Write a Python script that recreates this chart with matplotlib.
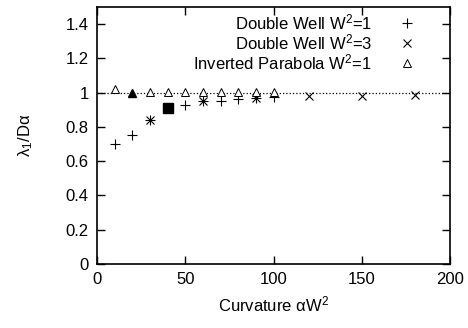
import matplotlib
matplotlib.use("Agg")
import matplotlib.pyplot as plt

plt.rcParams['font.family'] = ['Liberation Sans', 'DejaVu Sans']
plt.rcParams['mathtext.default'] = 'regular'

# data
dw1_x = [10, 20, 30, 40, 50, 60, 70, 80, 90, 100]
dw1_y = [0.70, 0.75, 0.84, 0.91, 0.93, 0.95, 0.95, 0.96, 0.97, 0.975]
dw3_x = [30, 60, 90, 120, 150, 180]
dw3_y = [0.84, 0.95, 0.97, 0.98, 0.982, 0.986]
ip_x = [10, 30, 40, 50, 60, 70, 80, 90, 100]
ip_y = [1.02, 1.005, 1.005, 1.005, 1.005, 1.005, 1.005, 1.005, 1.005]
tri_x = [20]
tri_y = [1.0]
sq_x = [40]
sq_y = [0.91]

fig = plt.figure(figsize=(4.68, 3.28), dpi=100)
ax = fig.add_axes([0.207, 0.195, 0.755, 0.784])

ax.axhline(1.0, color='black', ls=':', lw=0.9, zorder=1)
ax.plot(dw1_x, dw1_y, ls='none', marker='+', ms=6.5, mew=0.8, color='black',
        label=r'Double Well $W^2$=1')
ax.plot(dw3_x, dw3_y, ls='none', marker='x', ms=5.5, mew=0.8, color='black',
        label=r'Double Well $W^2$=3')
ax.plot(ip_x, ip_y, ls='none', marker='^', ms=5.5, mew=0.7, mfc='white', mec='black',
        label=r'Inverted Parabola $W^2$=1')
ax.plot(tri_x, tri_y, ls='none', marker='^', ms=6, color='black')
ax.plot(sq_x, sq_y, ls='none', marker='s', ms=6.5, color='black', zorder=5)

ax.set_xlim(0, 200)
ax.set_ylim(0, 1.5)
ax.set_xticks([0, 50, 100, 150, 200])
ax.set_yticks([0, 0.2, 0.4, 0.6, 0.8, 1, 1.2, 1.4])
ax.set_yticklabels(['0', '0.2', '0.4', '0.6', '0.8', '1', '1.2', '1.4'])
ax.tick_params(direction='in', top=True, right=True, length=6, width=1,
               labelsize=12, pad=6)
for s in ax.spines.values():
    s.set_linewidth(1.2)

ax.set_xlabel(r'Curvature $\alpha W^2$', fontsize=12, labelpad=5)
ax.set_ylabel(r'$\lambda_1$/D$\alpha$', fontsize=12, labelpad=22)

ax.legend(loc='upper right', frameon=False, markerfirst=False, fontsize=12,
          handlelength=1.2, handletextpad=1.5, labelspacing=0.0,
          borderaxespad=0.0, bbox_to_anchor=(0.925, 1.005))

fig.savefig('out.png', dpi=100)
